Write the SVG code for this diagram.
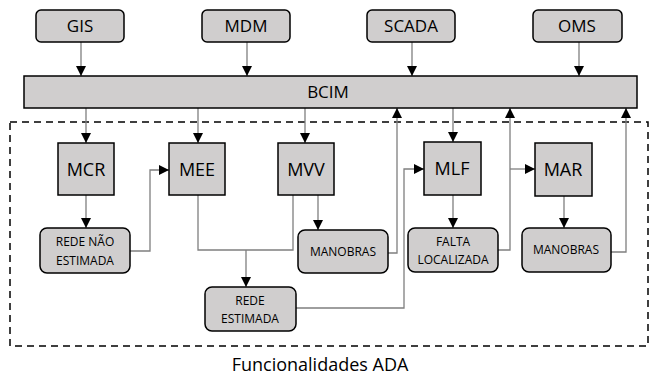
<svg xmlns="http://www.w3.org/2000/svg" width="651" height="378" viewBox="0 0 651 378">
<style>
.box{fill:#d0cece;stroke:#000;stroke-width:1.5}
.t{font-family:"Open Sans","Noto Sans",sans-serif;fill:#000;text-anchor:middle}
.lg{font-size:17px}
.md{font-size:18px}
.sm{font-size:12px}
.c{fill:none;stroke:#7f7f7f;stroke-width:1.3}
</style>
<defs>
<marker id="ah" markerUnits="userSpaceOnUse" markerWidth="10" markerHeight="10" refX="10" refY="5" orient="auto" viewBox="0 0 10 10">
<path d="M0,0 L10,5 L0,10 z" fill="#000"/>
</marker>
</defs>
<rect x="10" y="122" width="638" height="224" fill="none" stroke="#000" stroke-width="1.5" stroke-dasharray="7 5"/>
<g id="connectors">
<path class="c" d="M81,42 V76" marker-end="url(#ah)"/>
<path class="c" d="M247,42 V76" marker-end="url(#ah)"/>
<path class="c" d="M412,42 V76" marker-end="url(#ah)"/>
<path class="c" d="M579,42 V76" marker-end="url(#ah)"/>
<path class="c" d="M86,108 V143" marker-end="url(#ah)"/>
<path class="c" d="M198,108 V143" marker-end="url(#ah)"/>
<path class="c" d="M305,108 V143" marker-end="url(#ah)"/>
<path class="c" d="M453,108 V142" marker-end="url(#ah)"/>
<path class="c" d="M86,195 V228" marker-end="url(#ah)"/>
<path class="c" d="M130,251 H150 V170 H169" marker-end="url(#ah)"/>
<path class="c" d="M198,195 V250 H293 V195"/>
<path class="c" d="M246,250 V287" marker-end="url(#ah)"/>
<path class="c" d="M318,195 V230" marker-end="url(#ah)"/>
<path class="c" d="M388,253 H397 V108" marker-end="url(#ah)"/>
<path class="c" d="M296,308 H404 V169 H424" marker-end="url(#ah)"/>
<path class="c" d="M453,195 V228" marker-end="url(#ah)"/>
<path class="c" d="M498,250 H510 V108" marker-end="url(#ah)"/>
<path class="c" d="M510,169 H535" marker-end="url(#ah)"/>
<path class="c" d="M564,196 V228" marker-end="url(#ah)"/>
<path class="c" d="M611,252 H626 V108" marker-end="url(#ah)"/>
</g>
<g id="gis"><rect class="box" x="36" y="10" width="88" height="32" rx="5"/><text class="t lg" x="80" y="32">GIS</text></g>
<g id="mdm"><rect class="box" x="202" y="10" width="88" height="32" rx="5"/><text class="t lg" x="246" y="32">MDM</text></g>
<g id="scada"><rect class="box" x="367" y="10" width="88" height="32" rx="5"/><text class="t lg" x="411" y="32">SCADA</text></g>
<g id="oms"><rect class="box" x="533" y="10" width="89" height="32" rx="5"/><text class="t lg" x="577" y="32">OMS</text></g>
<g id="bcim"><rect class="box" x="24" y="76" width="613" height="32"/><text class="t lg" x="328" y="98">BCIM</text></g>
<g id="mcr"><rect class="box" x="58" y="143" width="56" height="52"/><text class="t md" x="86" y="176">MCR</text></g>
<g id="mee"><rect class="box" x="169" y="143" width="56" height="52"/><text class="t md" x="197" y="176">MEE</text></g>
<g id="mvv"><rect class="box" x="278" y="143" width="56" height="52"/><text class="t md" x="306" y="176">MVV</text></g>
<g id="mlf"><rect class="box" x="424" y="142" width="57" height="53"/><text class="t md" x="452" y="175">MLF</text></g>
<g id="mar"><rect class="box" x="535" y="143" width="57" height="53"/><text class="t md" x="563" y="176">MAR</text></g>
<g id="redenao"><rect class="box" x="40" y="228" width="90" height="45" rx="7"/><text class="t sm" x="85" y="246">REDE NÃO</text><text class="t sm" x="85" y="265">ESTIMADA</text></g>
<g id="manobras1"><rect class="box" x="298" y="230" width="90" height="43" rx="7"/><text class="t sm" x="343" y="256">MANOBRAS</text></g>
<g id="falta"><rect class="box" x="408" y="228" width="90" height="44" rx="7"/><text class="t sm" x="453" y="246">FALTA</text><text class="t sm" x="453" y="264">LOCALIZADA</text></g>
<g id="manobras2"><rect class="box" x="522" y="228" width="89" height="44" rx="7"/><text class="t sm" x="566" y="254">MANOBRAS</text></g>
<g id="redeest"><rect class="box" x="205" y="287" width="91" height="44" rx="7"/><text class="t sm" x="250" y="305">REDE</text><text class="t sm" x="250" y="323">ESTIMADA</text></g>
<text class="t" style="font-size:18px" x="320" y="371">Funcionalidades ADA</text>
</svg>
